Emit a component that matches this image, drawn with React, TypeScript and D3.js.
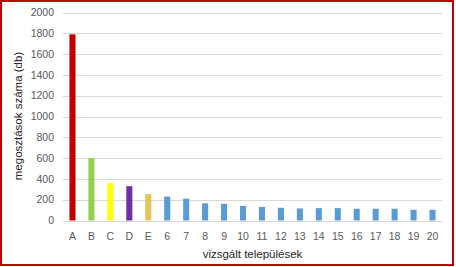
import React from "react";
import * as d3 from "d3";

const categories = ["A","B","C","D","E","6","7","8","9","10","11","12","13","14","15","16","17","18","19","20"];
const values = [1790,600,360,330,255,230,210,165,160,140,130,122,116,119,119,113,113,113,103,103];
const barColors = ["#C00000","#92D050","#FFFF00","#7030A0","#E8C25A","#5B9BD5","#5B9BD5","#5B9BD5","#5B9BD5","#5B9BD5","#5B9BD5","#5B9BD5","#5B9BD5","#5B9BD5","#5B9BD5","#5B9BD5","#5B9BD5","#5B9BD5","#5B9BD5","#5B9BD5"];
const yTicks = [0,200,400,600,800,1000,1200,1400,1600,1800,2000];
const yTitle = "megosztások száma (db)";
const xTitle = "vizsgált települések";

export default function App() {
  const W = 456, H = 267;
  const x = d3.scaleBand<string>().domain(categories).range([63, 442]).paddingInner(0.68).paddingOuter(0.34);
  const y = d3.scaleLinear().domain([0, 2000]).range([220.5, 12.5]);
  const font = "'Liberation Sans', Arial, sans-serif";
  return (
    <svg width={W} height={H} style={{ position: "absolute", left: 0, top: 0, background: "#fff" }}>
      <rect x={0} y={0} width={W} height={H} fill="#fff" />
      {yTicks.map(t => (
        <g key={t}>
          <line x1={63} x2={442} y1={Math.round(y(t)) + 0.5} y2={Math.round(y(t)) + 0.5} stroke="#D9D9D9" strokeWidth={1} />
          <text x={54} y={y(t)} dy="0.35em" textAnchor="end" fontFamily={font} fontSize={10.5} fill="#595959">{t}</text>
        </g>
      ))}
      {categories.map((c, i) => (
        <rect key={c} x={x(c)} y={y(values[i])} width={x.bandwidth()} height={y(0) - y(values[i])} fill={barColors[i]} />
      ))}
      {categories.map(c => (
        <text key={c} x={(x(c) as number) + x.bandwidth() / 2} y={236} dy="0.35em" textAnchor="middle" fontFamily={font} fontSize={10.5} fill="#595959">{c}</text>
      ))}
      <text x={252.5} y={254} dy="0.35em" textAnchor="middle" fontFamily={font} fontSize={11.5} fill="#262626">{xTitle}</text>
      <text transform={`translate(18,116) rotate(-90)`} dy="0.35em" textAnchor="middle" fontFamily={font} fontSize={11.5} fill="#262626">{yTitle}</text>
      <rect x={1} y={1} width={452} height={264} fill="none" stroke="#C00000" strokeWidth={2} />
    </svg>
  );
}
